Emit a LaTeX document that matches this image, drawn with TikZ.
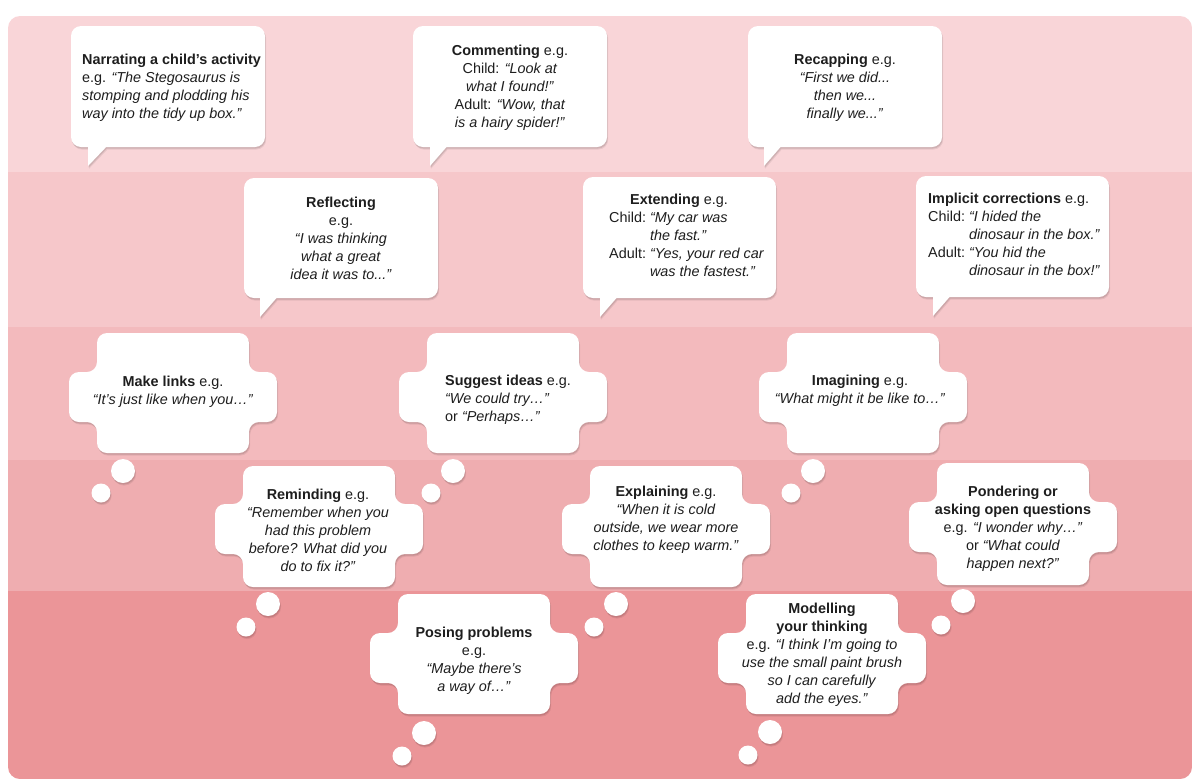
\documentclass[tikz,border=0pt]{standalone}
\usepackage{fontspec}
\setmainfont{Liberation Sans}
\definecolor{bandA}{HTML}{F9D5D8}
\definecolor{bandB}{HTML}{F6C7CA}
\definecolor{bandC}{HTML}{F3BABD}
\definecolor{bandD}{HTML}{EFADB0}
\definecolor{bandE}{HTML}{EB9598}
\definecolor{ink}{HTML}{1E1E1E}
\newcommand\shadowed[1]{%
  \fill[black,opacity=.10,xshift=.6pt,yshift=-1.6pt] #1;
  \fill[black,opacity=.07,xshift=1.2pt,yshift=-2.6pt] #1;
  \fill[white] #1;}
% x1 y1 x2 y2 tailx1 tailx2 taily
\newcommand\speech[7]{%
  \shadowed{[rounded corners=10pt] (#1,#2) rectangle (#3,#4) [sharp corners] (#5,{#4-4}) -- (#5,#7) -- (#6,{#4-4}) -- cycle}}
% cx ytop ybot vtop vbot
\newcommand\cloud[5]{%
  \shadowed{[rounded corners=10pt] (#1,#2) -- ({#1+76},#2) -- ({#1+76},#4) -- ({#1+104},#4) -- ({#1+104},#5) -- ({#1+76},#5) -- ({#1+76},#3) -- ({#1-76},#3) -- ({#1-76},#5) -- ({#1-104},#5) -- ({#1-104},#4) -- ({#1-76},#4) -- ({#1-76},#2) -- cycle}}
% big circle centre, small circle centre
\newcommand\puffs[4]{%
  \shadowed{(#1,#2) circle (12)}
  \shadowed{(#3,#4) circle (9.5)}}
\begin{document}
\begin{tikzpicture}[x=1pt,y=-1pt,
  txt/.style={inner sep=0pt, font=\fontsize{14.4}{18}\selectfont, text=ink}]
\useasboundingbox (0,0) rectangle (1200,782);
\fill[white] (0,0) rectangle (1200,782);
% bands
\begin{scope}
  \clip[rounded corners=12pt] (8,16) rectangle (1192,779);
  \fill[bandA] (8,16) rectangle (1192,172);
  \fill[bandB] (8,172) rectangle (1192,327);
  \fill[bandC] (8,327) rectangle (1192,460);
  \fill[bandD] (8,460) rectangle (1192,591);
  \fill[bandE] (8,591) rectangle (1192,779);
\end{scope}

% speech bubbles
\speech{71}{26}{265}{147}{88}{110}{166}
\speech{413}{26}{607}{147}{430}{450}{166}
\speech{748}{26}{942}{147}{764}{784}{166}
\speech{244}{178}{438}{298}{260}{280}{317}
\speech{583}{177}{776}{298}{600}{620}{317}
\speech{916}{176}{1109}{297}{933}{953}{316}

% thought clouds
\puffs{123}{471}{101}{493}
\cloud{173}{333}{453}{372}{422}
\puffs{453}{471}{431}{493}
\cloud{503}{333}{453}{372}{422}
\puffs{813}{471}{791}{493}
\cloud{863}{333}{453}{372}{422}
\puffs{268}{604}{246}{627}
\cloud{319}{466}{587}{504}{554}
\puffs{616}{604}{594}{627}
\cloud{666}{466}{587}{504}{554}
\puffs{963}{601}{941}{625}
\cloud{1013}{463}{585}{502}{552}
\puffs{424}{733}{402}{756}
\cloud{474}{594}{714}{633}{683}
\puffs{770}{732}{748}{755}
\cloud{822}{594}{714}{633}{683}

% texts
\node[txt, align=left, anchor=west] (narrating) at (82,88)
  {\textbf{Narrating a child’s activity}\\ e.g. \textit{“The Stegosaurus is}\\ \textit{stomping and plodding his}\\ \textit{way into the tidy up box.”}};
\node[txt, align=center] (commenting) at (510,88)
  {\textbf{Commenting} e.g.\\ Child: \textit{“Look at}\\ \textit{what I found!”}\\ Adult: \textit{“Wow, that}\\ \textit{is a hairy spider!”}};
\node[txt, align=center] (recapping) at (845,88)
  {\textbf{Recapping} e.g.\\ \textit{“First we did...}\\ \textit{then we...}\\ \textit{finally we...”}};
\node[txt, align=center] (reflecting) at (341,238)
  {\textbf{Reflecting}\\ e.g.\\ \textit{“I was thinking}\\ \textit{what a great}\\ \textit{idea it was to...”}};
\node[txt, align=left, anchor=west] (extending) at (609,238)
  {\hspace*{21pt}\textbf{Extending} e.g.\\
   \begin{tabular}[t]{@{}l@{\ }l@{}}
   Child: & \textit{“My car was}\\
          & \textit{the fast.”}\\
   Adult: & \textit{“Yes, your red car}\\
          & \textit{was the fastest.”}
   \end{tabular}};
\node[txt, align=left, anchor=west] (implicit) at (928,237)
  {\textbf{Implicit corrections} e.g.\\
   \begin{tabular}[t]{@{}l@{\ }l@{}}
   Child: & \textit{“I hided the}\\
          & \textit{dinosaur in the box.”}\\
   Adult: & \textit{“You hid the}\\
          & \textit{dinosaur in the box!”}
   \end{tabular}};
\node[txt, align=center] (links) at (173,392)
  {\textbf{Make links} e.g.\\ \textit{“It’s just like when you…”}};
\node[txt, align=left, anchor=west] (suggest) at (445,400)
  {\textbf{Suggest ideas} e.g.\\ \textit{“We could try…”}\\ or \textit{“Perhaps…”}};
\node[txt, align=center] (imagining) at (860,391)
  {\textbf{Imagining} e.g.\\ \textit{“What might it be like to…”}};
\node[txt, align=center] (reminding) at (318,530)
  {\textbf{Reminding} e.g.\\ \textit{“Remember when you}\\ \textit{had this problem}\\ \textit{before? What did you}\\ \textit{do to fix it?”}};
\node[txt, align=center] (explaining) at (666,520)
  {\textbf{Explaining} e.g.\\ \textit{“When it is cold}\\ \textit{outside, we wear more}\\ \textit{clothes to keep warm.”}};
\node[txt, align=center] (pondering) at (1013,529)
  {\textbf{Pondering or}\\ \textbf{asking open questions}\\ e.g. \textit{“I wonder why…”}\\ or \textit{“What could}\\ \textit{happen next?”}};
\node[txt, align=center] (posing) at (474,661)
  {\textbf{Posing problems}\\ e.g.\\ \textit{“Maybe there’s}\\ \textit{a way of…”}};
\node[txt, align=center] (modelling) at (822,655)
  {\textbf{Modelling}\\ \textbf{your thinking}\\ e.g. \textit{“I think I’m going to}\\ \textit{use the small paint brush}\\ \textit{so I can carefully}\\ \textit{add the eyes.”}};
\end{tikzpicture}
\end{document}
